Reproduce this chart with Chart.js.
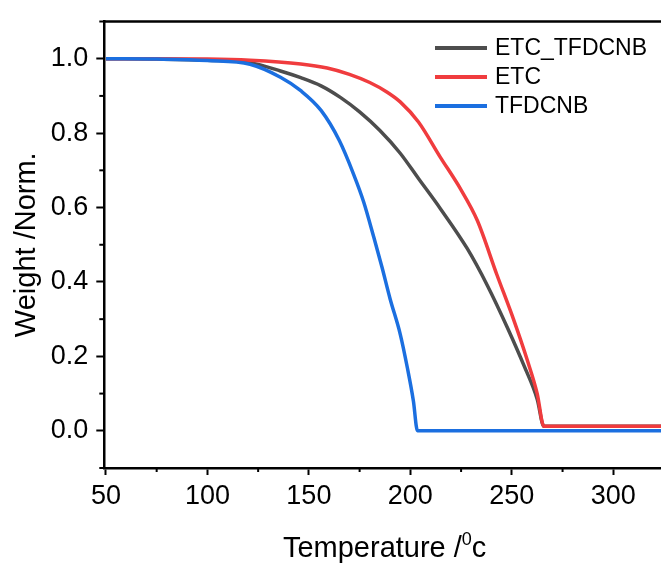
<!DOCTYPE html>
<html>
<head>
<meta charset="utf-8">
<script src="https://cdn.jsdelivr.net/npm/chart.js@4.4.1/dist/chart.umd.min.js"></script>
<style>
  html, body { margin: 0; padding: 0; background: #fff; overflow: hidden; }
  #wrap { width: 661px; height: 563px; }
</style>
</head>
<body>
<div id="wrap"><canvas id="chart"></canvas></div>
<script>
// TGA curves
const seriesNames = ['ETC_TFDCNB', 'ETC', 'TFDCNB'];
const seriesColors = ['#4d4d4d', '#f03c3e', '#1b6fe0'];

const tempMix = [50, 75, 100, 121, 136, 146, 156, 165.5, 175, 185, 195, 204, 214.8, 228, 238, 248, 256, 262.5, 265.8, 290, 325];
const weightMix = [1.0, 0.999, 0.996, 0.989, 0.967, 0.949, 0.927, 0.896, 0.857, 0.807, 0.746, 0.678, 0.597, 0.49, 0.39, 0.275, 0.175, 0.085, 0.012, 0.012, 0.012];

const tempEtc = [50, 100, 121, 146, 159, 170, 180, 188.6, 195, 204, 214.8, 224.7, 233, 242.6, 250.8, 257.6, 262.5, 265.8, 290, 325];
const weightEtc = [1.0, 0.999, 0.996, 0.986, 0.975, 0.958, 0.936, 0.91, 0.884, 0.83, 0.735, 0.65, 0.565, 0.42, 0.3, 0.19, 0.1, 0.012, 0.012, 0.012];

const tempTf = [50, 75, 100, 121, 136, 146, 156, 165, 172, 177, 182, 186, 190, 195, 198.5, 201.5, 203.5, 250, 325];
const weightTf = [1.0, 0.999, 0.995, 0.985, 0.95, 0.914, 0.861, 0.78, 0.69, 0.615, 0.52, 0.44, 0.355, 0.26, 0.17, 0.08, 0.0, 0.0, 0.0];

const xTicks = [50, 100, 150, 200, 250, 300];
const xMinor = [75, 125, 175, 225, 275];
const yTicks = [0, 0.2, 0.4, 0.6, 0.8, 1.0];
const yMinor = [-0.1, 0.1, 0.3, 0.5, 0.7, 0.9, 1.1];

const FONT = '"Liberation Sans", Arial, sans-serif';

const toPoints = (t, w) => t.map((v, i) => ({ x: v, y: w[i] }));
const allT = [tempMix, tempEtc, tempTf];
const allW = [weightMix, weightEtc, weightTf];
const drawOrder = [2, 1, 0]; // blue on top, then red, then gray

const datasets = seriesNames.map((name, i) => ({
  label: name,
  data: toPoints(allT[i], allW[i]),
  borderColor: seriesColors[i],
  backgroundColor: seriesColors[i],
  borderWidth: 3.5,
  pointRadius: 0,
  showLine: true,
  cubicInterpolationMode: 'monotone',
  fill: false,
  order: drawOrder[i]
}));

const extras = {
  id: 'extras',
  afterDraw(chart) {
    const ctx = chart.ctx;
    const a = chart.chartArea;
    const xs = chart.scales.x, ys = chart.scales.y;
    ctx.save();
    ctx.strokeStyle = '#000';
    ctx.lineWidth = 2.5;
    // top frame line
    ctx.beginPath();
    ctx.moveTo(a.left - 1.25, a.top);
    ctx.lineTo(a.right, a.top);
    ctx.stroke();
    // minor ticks
    ctx.lineWidth = 2;
    xMinor.forEach(v => {
      const px = xs.getPixelForValue(v);
      ctx.beginPath();
      ctx.moveTo(px, a.bottom);
      ctx.lineTo(px, a.bottom + 4);
      ctx.stroke();
    });
    yMinor.forEach(v => {
      const py = ys.getPixelForValue(v);
      ctx.beginPath();
      ctx.moveTo(a.left, py);
      ctx.lineTo(a.left - 5, py);
      ctx.stroke();
    });
    // legend
    ctx.font = '23px ' + FONT;
    ctx.textBaseline = 'middle';
    ctx.textAlign = 'left';
    seriesNames.forEach((name, i) => {
      const y = 48 + i * 29;
      ctx.strokeStyle = seriesColors[i];
      ctx.lineWidth = 4;
      ctx.beginPath();
      ctx.moveTo(435, y);
      ctx.lineTo(487, y);
      ctx.stroke();
      ctx.fillStyle = '#000';
      ctx.fillText(name, 495, y + 1);
    });
    // x axis title with superscript
    const main = 'Temperature /';
    const big = '29px ' + FONT, small = '18px ' + FONT;
    ctx.font = big;
    const w1 = ctx.measureText(main).width;
    const w3 = ctx.measureText('c').width;
    ctx.font = small;
    const w2 = ctx.measureText('0').width;
    const cx = (a.left + a.right) / 2 + 2;
    const x0 = cx - (w1 + w2 + w3) / 2;
    const base = 557;
    ctx.textBaseline = 'alphabetic';
    ctx.fillStyle = '#000';
    ctx.font = big;
    ctx.fillText(main, x0, base);
    ctx.fillText('c', x0 + w1 + w2, base);
    ctx.font = small;
    ctx.fillText('0', x0 + w1, base - 12);
    ctx.restore();
  }
};

new Chart(document.getElementById('chart'), {
  type: 'scatter',
  data: { datasets },
  plugins: [extras],
  options: {
    responsive: true,
    maintainAspectRatio: false,
    animation: false,
    layout: { padding: { top: 16.5, right: 0, left: 0, bottom: 0 } },
    plugins: { legend: { display: false }, tooltip: { enabled: false } },
    scales: {
      x: {
        type: 'linear',
        min: 49.2,
        max: 323.5,
        afterBuildTicks: s => { s.ticks = xTicks.map(v => ({ value: v })); },
        afterFit: s => { s.height = 95; },
        border: { display: true, color: '#000', width: 2.5 },
        grid: { drawOnChartArea: false, drawTicks: true, tickLength: 7, tickWidth: 2, tickColor: '#000', color: '#000' },
        ticks: { color: '#000', font: { family: FONT, size: 27, lineHeight: 1 }, padding: 8, maxRotation: 0, callback: v => String(v) },
        title: { display: false }
      },
      y: {
        min: -0.1,
        max: 1.1,
        afterBuildTicks: s => { s.ticks = yTicks.map(v => ({ value: v })); },
        afterFit: s => { s.width = 104.3; },
        border: { display: true, color: '#000', width: 2.5 },
        grid: { drawOnChartArea: false, drawTicks: true, tickLength: 8, tickWidth: 2, tickColor: '#000', color: '#000' },
        ticks: { color: '#000', font: { family: FONT, size: 27, lineHeight: 1 }, padding: 8, callback: v => v.toFixed(1) },
        title: { display: true, text: 'Weight /Norm.', color: '#000', font: { family: FONT, size: 29 }, padding: { top: 10, bottom: 0 } }
      }
    }
  }
});
</script>
</body>
</html>
